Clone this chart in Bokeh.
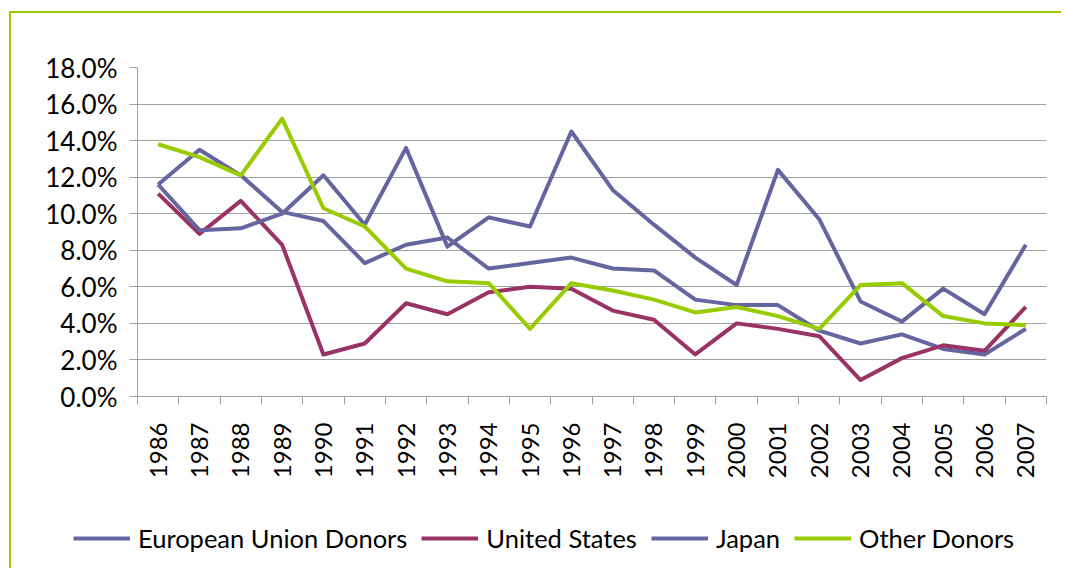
import math
from bokeh.plotting import figure
from bokeh.layouts import column
from bokeh.models import (FixedTicker, PrintfTickFormatter, Legend, LegendItem,
                          Range1d, InlineStyleSheet)
from bokeh.embed import file_html
from bokeh.resources import INLINE

years = [1986, 1987, 1988, 1989, 1990, 1991, 1992, 1993, 1994, 1995, 1996,
         1997, 1998, 1999, 2000, 2001, 2002, 2003, 2004, 2005, 2006, 2007]

eu_donors = [11.6, 13.5, 12.1, 10.1, 9.6, 7.3, 8.3, 8.7, 7.0, 7.3, 7.6,
             7.0, 6.9, 5.3, 5.0, 5.0, 3.6, 2.9, 3.4, 2.6, 2.3, 3.7]
united_states = [11.1, 8.9, 10.7, 8.3, 2.3, 2.9, 5.1, 4.5, 5.7, 6.0, 5.9,
                 4.7, 4.2, 2.3, 4.0, 3.7, 3.3, 0.9, 2.1, 2.8, 2.5, 4.9]
japan = [11.6, 9.1, 9.2, 10.0, 12.1, 9.4, 13.6, 8.2, 9.8, 9.3, 14.5,
         11.3, 9.4, 7.6, 6.1, 12.4, 9.7, 5.2, 4.1, 5.9, 4.5, 8.3]
other_donors = [13.8, 13.1, 12.1, 15.2, 10.3, 9.3, 7.0, 6.3, 6.2, 3.7, 6.2,
                5.8, 5.3, 4.6, 4.9, 4.4, 3.7, 6.1, 6.2, 4.4, 4.0, 3.9]

series_names = ["European Union Donors", "United States", "Japan", "Other Donors"]
series_colors = ["#65659F", "#993366", "#65659F", "#99CC00"]
y_ticks = [0, 2, 4, 6, 8, 10, 12, 14, 16, 18]

FONT = "Lato"
GREEN = "#99CC00"
all_series = [eu_donors, united_states, japan, other_donors]

p = figure(width=1061, height=500, output_backend="svg", toolbar_location=None,
           x_range=Range1d(years[0] - 0.5, years[-1] + 0.5),
           y_range=Range1d(y_ticks[0], y_ticks[-1]),
           min_border_left=137, min_border_right=15, min_border_top=67,
           min_border_bottom=104)
p.outline_line_color = None
p.background_fill_color = "white"
p.border_fill_color = "white"

# green chart-area border (left and top edges visible only)
p.stylesheets = [InlineStyleSheet(css="""
:host { position: relative; overflow: hidden; }
:host::after {
  content: ""; position: absolute; left: 9px; top: 11px;
  width: 3000px; height: 3000px;
  border-left: 2px solid %s; border-top: 2px solid %s;
  pointer-events: none; z-index: 10;
}
""" % (GREEN, GREEN))]

# grid
p.xgrid.grid_line_color = None
p.ygrid.grid_line_color = "#A0A0A0"
p.ygrid.grid_line_width = 1

# y axis
p.yaxis.ticker = FixedTicker(ticks=y_ticks)
p.yaxis.formatter = PrintfTickFormatter(format="%.1f%%")
p.yaxis.axis_line_color = "#A0A0A0"
p.yaxis.major_tick_line_color = "#A0A0A0"
p.yaxis.major_tick_out = 8
p.yaxis.major_tick_in = 0
p.yaxis.minor_tick_line_color = None
p.yaxis.major_label_text_font = FONT
p.yaxis.major_label_text_font_size = "26px"
p.yaxis.major_label_text_color = "black"
p.yaxis.major_label_standoff = 12

# x axis
p.xaxis.ticker = FixedTicker(ticks=years, minor_ticks=[y - 0.5 for y in years] + [years[-1] + 0.5])
p.xaxis.major_label_overrides = {y: str(y) for y in years}
p.xaxis.axis_line_color = "#A0A0A0"
p.xaxis.major_tick_line_color = None
p.xaxis.major_tick_out = 0
p.xaxis.major_tick_in = 0
p.xaxis.minor_tick_line_color = "#A0A0A0"
p.xaxis.minor_tick_out = 8
p.xaxis.minor_tick_in = 0
p.xaxis.major_label_orientation = math.pi / 2
p.xaxis.major_label_text_font = FONT
p.xaxis.major_label_text_font_size = "24px"
p.xaxis.major_label_text_color = "black"
p.xaxis.major_label_standoff = 18

for name, vals, color in zip(series_names, all_series, series_colors):
    p.line(years, vals, line_color=color, line_width=4, line_join="round")

# legend strip below the chart (its lines use the same data, out of view)
lg = figure(width=1061, height=68, output_backend="svg", toolbar_location=None,
            x_axis_type=None, y_axis_type=None,
            x_range=Range1d(0, 1), y_range=Range1d(0, 1),
            min_border=0, min_border_left=0, min_border_right=0,
            min_border_top=0, min_border_bottom=0)
lg.grid.visible = False
lg.outline_line_color = None
lg.background_fill_color = "white"
lg.border_fill_color = "white"
lg.stylesheets = [InlineStyleSheet(css="""
:host { position: relative; overflow: hidden; }
:host::after {
  content: ""; position: absolute; left: 9px; top: 0px;
  width: 3000px; height: 3000px;
  border-left: 2px solid %s;
  pointer-events: none; z-index: 10;
}
""" % GREEN)]

for fig in (p, lg):
    if "frame_align" in fig.properties():
        fig.frame_align = False

items = []
for name, vals, color in zip(series_names, all_series, series_colors):
    r = lg.line(years, vals, line_color=color, line_width=4)
    items.append(LegendItem(label=name, renderers=[r]))

legend = Legend(items=items, orientation="horizontal", location=(73, 15),
                label_text_font=FONT, label_text_font_size="25.5px",
                label_text_color="black", glyph_width=57, glyph_height=20,
                label_height=20, label_standoff=8, spacing=14, padding=0,
                margin=0, border_line_color=None, background_fill_alpha=0)
lg.add_layout(legend, "center")

layout = column(p, lg, spacing=0)

open("out.html", "w").write(file_html(layout, INLINE))
